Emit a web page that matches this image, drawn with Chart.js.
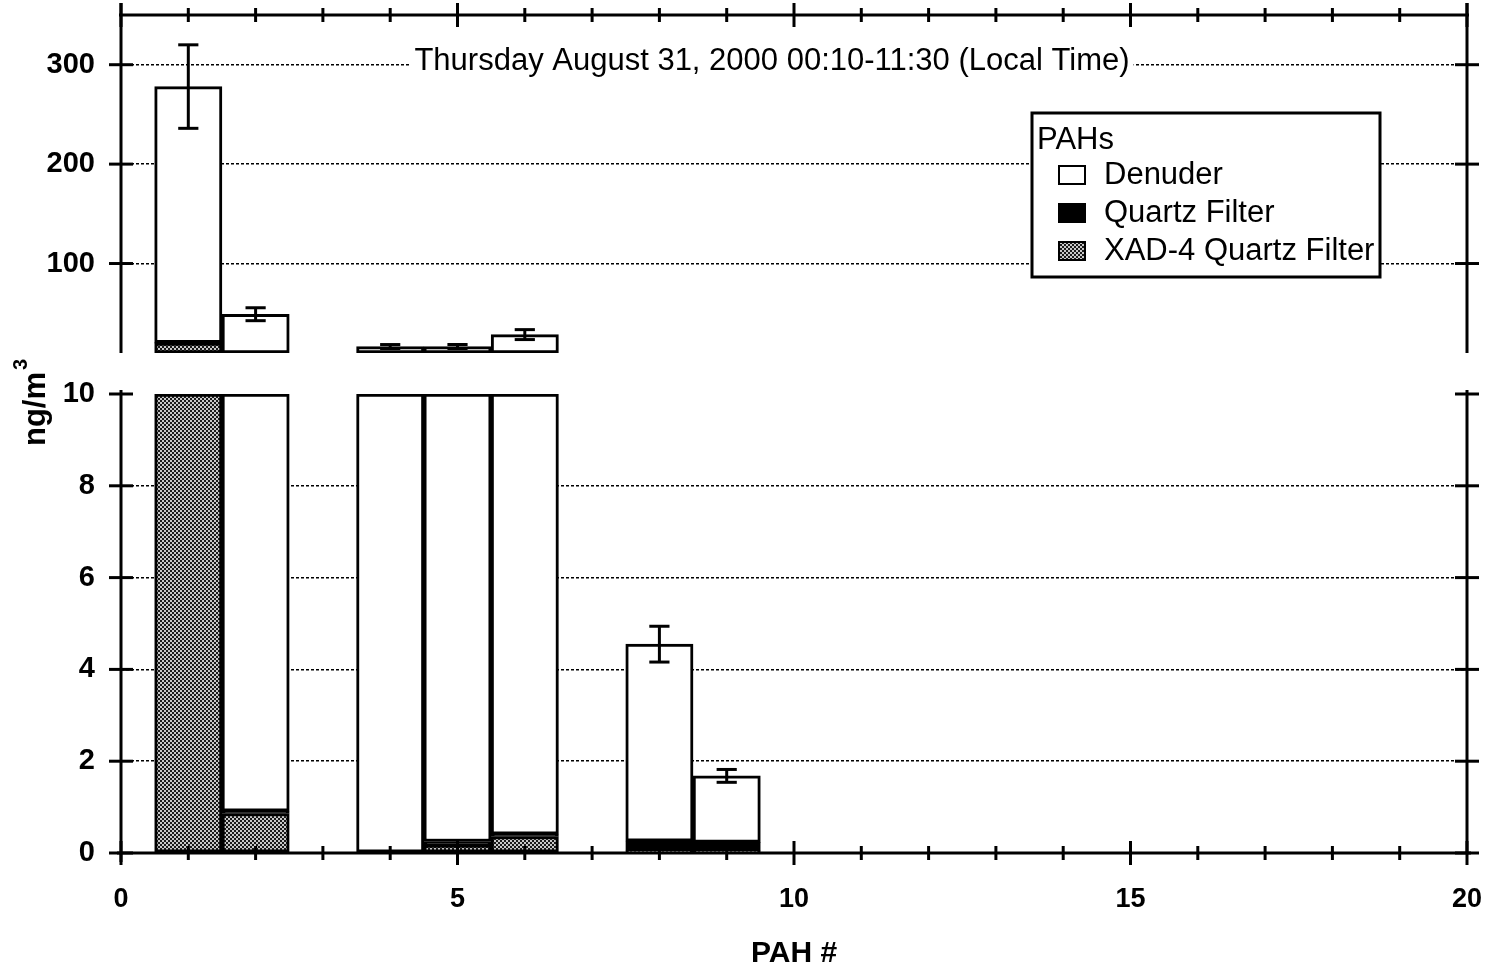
<!DOCTYPE html>
<html>
<head>
<meta charset="utf-8">
<script src="https://cdn.jsdelivr.net/npm/chart.js@4.4.0/dist/chart.umd.min.js"></script>
<style>
  html, body { margin: 0; padding: 0; background: #fff; }
  #wrap { position: relative; width: 1491px; height: 972px; }
  #wrap canvas { position: absolute; left: 0; top: 0; }
</style>
</head>
<body>
<div id="wrap">
  <canvas id="topChart" width="1491" height="972"></canvas>
  <canvas id="bottomChart" width="1491" height="972"></canvas>
</div>
<script>
// values (ng/m3), stacked bottom -> top: XAD-4, Quartz, Denuder
const pahNumbers = [1, 2, 4, 5, 6, 8, 9];
const xadValues = [20, 0.86, 0, 0.17, 0.36, 0.06, 0.05];
const quartzValues = [0.5, 0.05, 0, 0.08, 0.05, 0.2, 0.18];
const denuderValues = [257.5, 48.1, 16.5, 16.3, 28.1, 4.29, 1.45];
const errorValues = [42, 6.5, 2, 2, 5, 0.39, 0.14];

const seriesNames = ["Denuder", "Quartz Filter", "XAD-4 Quartz Filter"];
const titleText = "Thursday August 31, 2000 00:10-11:30 (Local Time)";

const xTicks = [0, 5, 10, 15, 20];
const topTicks = [100, 200, 300];
const bottomTicks = [0, 2, 4, 6, 8, 10];
const topRange = [10, 350];
const bottomRange = [0, 10];

const FONT = "'Liberation Sans', Arial, sans-serif";

function hatch(ctx) {
  const tile = document.createElement("canvas");
  tile.width = 4;
  tile.height = 4;
  const t = tile.getContext("2d");
  t.fillStyle = "#c8c8c8";
  t.fillRect(0, 0, 4, 4);
  t.fillStyle = "#1a1a1a";
  t.fillRect(0, 0, 2, 2);
  t.fillRect(2, 2, 2, 2);
  return ctx.createPattern(tile, "repeat");
}

// cut the stacked columns to the range of one panel
function panelData(lo, hi) {
  const order = [xadValues, quartzValues, denuderValues];
  const out = [[], [], []];
  pahNumbers.forEach((x, i) => {
    let base = 0;
    order.forEach((vals, s) => {
      const a = base;
      const b = base + vals[i];
      base = b;
      const ca = Math.max(a, lo);
      const cb = Math.min(b, hi);
      if (cb > ca) out[s].push({ x: x, y: [ca, cb] });
    });
  });
  return out;
}

function line(ctx, x1, y1, x2, y2) {
  ctx.beginPath();
  ctx.moveTo(x1, y1);
  ctx.lineTo(x2, y2);
  ctx.stroke();
}

function xTickMarks(ctx, xs, y) {
  for (let v = Math.ceil(xs.min); v <= xs.max; v++) {
    const px = xs.getPixelForValue(v);
    const len = v % 5 === 0 ? 12 : 7;
    line(ctx, px, y - len, px, y + len);
  }
}

function yTickMarks(ctx, ys, left, right) {
  ys.ticks.forEach((t) => {
    const py = ys.getPixelForValue(t.value);
    line(ctx, left - 12, py, left + 12, py);
    line(ctx, right - 12, py, right + 12, py);
  });
}

function errorBars(chart) {
  const ctx = chart.ctx;
  const xs = chart.scales.x;
  const ys = chart.scales.y;
  const meta = chart.getDatasetMeta(0);
  const barW = meta.data.length ? meta.data[0].width : 60;
  ctx.save();
  ctx.strokeStyle = "#000";
  ctx.lineWidth = 3;
  pahNumbers.forEach((x, i) => {
    const total = xadValues[i] + quartzValues[i] + denuderValues[i];
    if (total < ys.min || total > ys.max) return;
    const px = xs.getPixelForValue(x);
    const y1 = ys.getPixelForValue(total - errorValues[i]);
    const y2 = ys.getPixelForValue(total + errorValues[i]);
    const cap = barW * 0.15;
    line(ctx, px, y1, px, y2);
    line(ctx, px - cap, y1, px + cap, y1);
    line(ctx, px - cap, y2, px + cap, y2);
  });
  ctx.restore();
}

function makeDatasets(ctx, lo, hi) {
  const parts = panelData(lo, hi);
  const fills = [hatch(ctx), "#000", "#fff"];
  const names = [seriesNames[2], seriesNames[1], seriesNames[0]];
  return parts.map((data, s) => ({
    label: names[s],
    data: data,
    backgroundColor: fills[s],
    borderColor: "#000",
    borderWidth: 3,
    borderSkipped: false,
    grouped: false,
    barPercentage: 1,
    categoryPercentage: 1
  }));
}

function gridColor(c) {
  const v = c.tick ? c.tick.value : null;
  return v === 0 || v === 10 ? "rgba(0,0,0,0)" : "#000";
}

function baseOptions(range, ticks, padding, showX) {
  return {
    responsive: false,
    animation: false,
    devicePixelRatio: 1,
    layout: { padding: padding },
    plugins: { legend: { display: false }, tooltip: { enabled: false } },
    scales: {
      x: {
        type: "linear",
        min: 0,
        max: 20,
        offset: false,
        display: showX,
        afterBuildTicks: (s) => { s.ticks = xTicks.map((v) => ({ value: v })); },
        afterFit: (s) => {
          if (showX) s.height = 119;
          s.paddingLeft = 0;
          s.paddingRight = 0;
        },
        grid: { display: false, offset: false },
        border: { display: false },
        ticks: {
          color: "#000",
          padding: 22,
          maxRotation: 0,
          font: { family: FONT, size: 27, weight: "bold" }
        },
        title: {
          display: showX,
          text: "PAH #",
          color: "#000",
          padding: { top: 0, bottom: 0 },
          font: { family: FONT, size: 30, weight: "bold" }
        }
      },
      y: {
        type: "linear",
        min: range[0],
        max: range[1],
        afterBuildTicks: (s) => { s.ticks = ticks.map((v) => ({ value: v })); },
        afterFit: (s) => {
          s.width = 121;
          s.paddingTop = 0;
          s.paddingBottom = 0;
        },
        grid: { color: gridColor, lineWidth: 1.5, drawTicks: false },
        border: { display: false, dash: [3, 2] },
        ticks: {
          color: "#000",
          padding: 26,
          font: { family: FONT, size: 29, weight: "bold" }
        }
      }
    }
  };
}

// ---------- top panel ----------
const topCtx = document.getElementById("topChart").getContext("2d");

const topFrame = {
  id: "topFrame",
  afterDatasetsDraw(chart) {
    const ctx = chart.ctx;
    const a = chart.chartArea;
    errorBars(chart);
    ctx.save();
    ctx.strokeStyle = "#000";
    ctx.lineWidth = 3;
    line(ctx, a.left, a.top - 12, a.left, a.bottom);
    line(ctx, a.right, a.top - 12, a.right, a.bottom);
    line(ctx, a.left - 2, a.top, a.right + 2, a.top);
    xTickMarks(ctx, chart.scales.x, a.top);
    yTickMarks(ctx, chart.scales.y, a.left, a.right);

    // title inside the plot, on a white strip over the grid line
    ctx.font = "31px " + FONT;
    ctx.textBaseline = "middle";
    ctx.textAlign = "center";
    const tw = ctx.measureText(titleText).width;
    ctx.fillStyle = "#fff";
    ctx.fillRect(772 - tw / 2 - 4, 45, tw + 8, 32);
    ctx.fillStyle = "#000";
    ctx.fillText(titleText, 772, 61);

    // legend
    const lx = 1032, ly = 113, lw = 348, lh = 164;
    ctx.fillStyle = "#fff";
    ctx.fillRect(lx, ly, lw, lh);
    ctx.strokeRect(lx, ly, lw, lh);
    ctx.textAlign = "left";
    ctx.fillStyle = "#000";
    ctx.fillText("PAHs", lx + 5, ly + 27);
    const swatches = ["#fff", "#000", hatch(ctx)];
    seriesNames.forEach((name, i) => {
      const cy = ly + 62 + i * 38;
      ctx.fillStyle = swatches[i];
      ctx.fillRect(lx + 27, cy - 9, 26, 18);
      ctx.lineWidth = 2;
      ctx.strokeRect(lx + 27, cy - 9, 26, 18);
      ctx.fillStyle = "#000";
      ctx.fillText(name, lx + 72, cy);
    });
    ctx.restore();
  }
};

new Chart(topCtx, {
  type: "bar",
  data: { datasets: makeDatasets(topCtx, topRange[0], topRange[1]) },
  options: baseOptions(topRange, topTicks, { left: 0, right: 24, top: 15, bottom: 619 }, false),
  plugins: [topFrame]
});

// ---------- bottom panel ----------
const bottomCtx = document.getElementById("bottomChart").getContext("2d");

const bottomFrame = {
  id: "bottomFrame",
  afterDatasetsDraw(chart) {
    const ctx = chart.ctx;
    const a = chart.chartArea;
    errorBars(chart);
    ctx.save();
    ctx.strokeStyle = "#000";
    ctx.lineWidth = 3;
    line(ctx, a.left, a.top - 4, a.left, a.bottom + 9);
    line(ctx, a.right, a.top - 4, a.right, a.bottom);
    line(ctx, a.left - 4, a.bottom, a.right + 4, a.bottom);
    xTickMarks(ctx, chart.scales.x, a.bottom);
    yTickMarks(ctx, chart.scales.y, a.left, a.right);

    // y axis title spanning both panels
    ctx.fillStyle = "#000";
    ctx.translate(45, 446);
    ctx.rotate(-Math.PI / 2);
    ctx.textAlign = "left";
    ctx.textBaseline = "alphabetic";
    ctx.font = "bold 31px " + FONT;
    const w = ctx.measureText("ng/m").width;
    ctx.fillText("ng/m", 0, 0);
    ctx.font = "bold 20px " + FONT;
    ctx.fillText("3", w + 2, -18);
    ctx.restore();
  }
};

new Chart(bottomCtx, {
  type: "bar",
  data: { datasets: makeDatasets(bottomCtx, bottomRange[0], bottomRange[1]) },
  options: baseOptions(bottomRange, bottomTicks, { left: 0, right: 24, top: 394, bottom: 0 }, true),
  plugins: [bottomFrame]
});
</script>
</body>
</html>
